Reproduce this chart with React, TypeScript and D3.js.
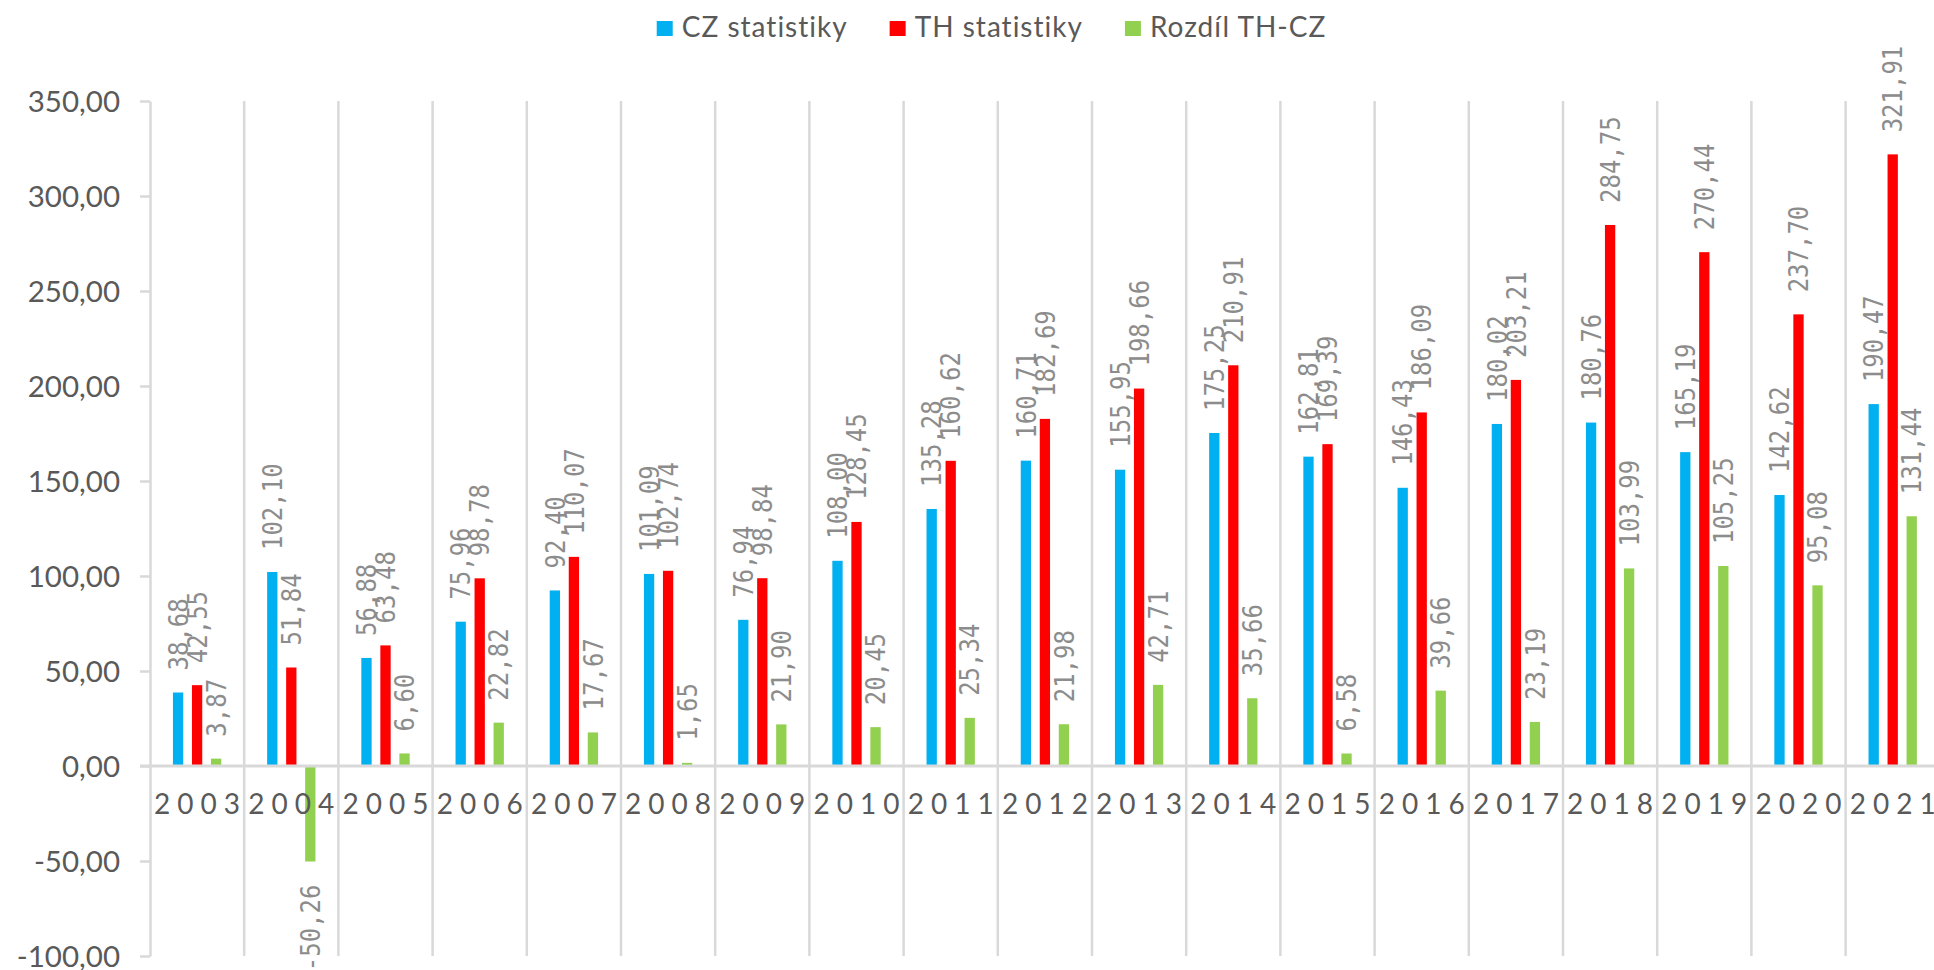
import React, { useEffect, useRef } from "react";
import * as d3 from "d3";

const years = ["2003","2004","2005","2006","2007","2008","2009","2010","2011","2012","2013","2014","2015","2016","2017","2018","2019","2020","2021"];
const czValues = [38.68, 102.10, 56.88, 75.96, 92.40, 101.09, 76.94, 108.00, 135.28, 160.71, 155.95, 175.25, 162.81, 146.43, 180.02, 180.76, 165.19, 142.62, 190.47];
const thValues = [42.55, 51.84, 63.48, 98.78, 110.07, 102.74, 98.84, 128.45, 160.62, 182.69, 198.66, 210.91, 169.39, 186.09, 203.21, 284.75, 270.44, 237.70, 321.91];
const diffValues = [3.87, -50.26, 6.60, 22.82, 17.67, 1.65, 21.90, 20.45, 25.34, 21.98, 42.71, 35.66, 6.58, 39.66, 23.19, 103.99, 105.25, 95.08, 131.44];
const seriesNames = ["CZ statistiky", "TH statistiky", "Rozdíl TH-CZ"];
const seriesColors = ["#00B0F0", "#FF0000", "#92D050"];
const yTicks = [-100, -50, 0, 50, 100, 150, 200, 250, 300, 350];

const W = 1934;
const H = 970;

export default function App() {
  const ref = useRef<SVGSVGElement | null>(null);

  useEffect(() => {
    document.body.style.margin = "0";
    const svg = d3.select(ref.current);
    svg.selectAll("*").remove();

    const locale = d3.formatLocale({ decimal: ",", thousands: " ", grouping: [3], currency: ["", ""], minus: "-" });
    const fmt = locale.format(".2f");

    const left = 150;
    const step = 94.2;
    const right = left + years.length * step;
    const y = d3.scaleLinear().domain([-100, 350]).range([956, 101]);
    const x0 = d3.scaleBand<string>().domain(years).range([left, right]).paddingInner(0.487).paddingOuter(0.2435);
    const x1 = d3.scaleBand<number>().domain([0, 1, 2]).range([0, x0.bandwidth()]).paddingInner(0.458);

    const grid = "#d9d9d9";
    const series = [czValues, thValues, diffValues];

    // vertical category separators
    const g = svg.append("g");
    for (let i = 1; i <= years.length; i++) {
      const xx = left + i * x0.step();
      g.append("line").attr("x1", xx).attr("x2", xx).attr("y1", y(350)).attr("y2", y(-100))
        .attr("stroke", grid).attr("stroke-width", 2.5);
    }

    // y axis
    const axis = d3.axisLeft(y).tickValues(yTicks).tickSize(10).tickSizeOuter(0).tickPadding(20)
      .tickFormat((d) => fmt(d as number));
    const ag = svg.append("g").attr("transform", `translate(${left},0)`).call(axis);
    ag.select(".domain").attr("stroke", grid).attr("stroke-width", 2.5);
    ag.selectAll(".tick line").attr("stroke", grid).attr("stroke-width", 2.5);
    ag.selectAll(".tick text").attr("fill", "#595959").attr("font-family", "Lato, 'Open Sans', sans-serif")
      .attr("font-size", 29.5).attr("dy", "0.34em");

    // bars
    series.forEach((vals, si) => {
      svg.append("g").selectAll("rect").data(vals).join("rect")
        .attr("x", (_d, i) => (x0(years[i]) as number) + (x1(si) as number))
        .attr("width", x1.bandwidth())
        .attr("y", (d) => y(Math.max(0, d)))
        .attr("height", (d) => Math.abs(y(d) - y(0)))
        .attr("fill", seriesColors[si]);
    });

    // zero line
    svg.append("line").attr("x1", left - 10).attr("x2", W).attr("y1", y(0)).attr("y2", y(0))
      .attr("stroke", grid).attr("stroke-width", 3);

    // data labels
    series.forEach((vals, si) => {
      svg.append("g").selectAll("text").data(vals).join("text")
        .attr("transform", (d, i) => {
          const cx = (x0(years[i]) as number) + (x1(si) as number) + x1.bandwidth() / 2;
          const yy = d >= 0 ? y(d) - 22 : y(d) + 23;
          return `translate(${cx},${yy}) rotate(-90) scale(1,1.12)`;
        })
        .attr("text-anchor", (d) => (d >= 0 ? "start" : "end"))
        .attr("dy", "0.36em")
        .attr("font-family", "'DejaVu Sans Mono', monospace")
        .attr("font-size", 24)
        .attr("fill", "#8c8c8c")
        .text((d) => fmt(d));
    });

    // x labels (letter-spaced, per-character tspans to avoid trailing spacing)
    const ls = 7;
    const xl = svg.append("g").selectAll("text").data(years).join("text")
      .attr("x", (d) => (x0(d) as number) + x0.bandwidth() / 2)
      .attr("y", 814)
      .attr("text-anchor", "middle")
      .attr("font-family", "Lato, 'Open Sans', sans-serif")
      .attr("font-size", 28)
      .attr("fill", "#595959");
    xl.each(function (d) {
      const t = d3.select(this);
      d.split("").forEach((ch, k) => {
        t.append("tspan").attr("dx", k === 0 ? 0 : ls).text(ch);
      });
    });

    // legend
    const lg = svg.append("g");
    const items = seriesNames.map((name, i) => {
      const it = lg.append("g");
      it.append("rect").attr("x", 0).attr("y", 21).attr("width", 16).attr("height", 15).attr("fill", seriesColors[i]);
      const t = it.append("text").attr("x", 25).attr("y", 37).attr("font-family", "Lato, 'Open Sans', sans-serif")
        .attr("font-size", 28).attr("letter-spacing", 1).attr("fill", "#595959").text(name);
      const w = 25 + (t.node() as SVGTextElement).getComputedTextLength();
      return { it, w };
    });
    const gap = 42;
    const total = items.reduce((s, d) => s + d.w, 0) + gap * (items.length - 1);
    let cx = 991.5 - total / 2;
    items.forEach((d) => {
      d.it.attr("transform", `translate(${cx},0)`);
      cx += d.w + gap;
    });
  }, []);

  return <svg ref={ref} width={W} height={H} style={{ display: "block", background: "#fff" }} />;
}
